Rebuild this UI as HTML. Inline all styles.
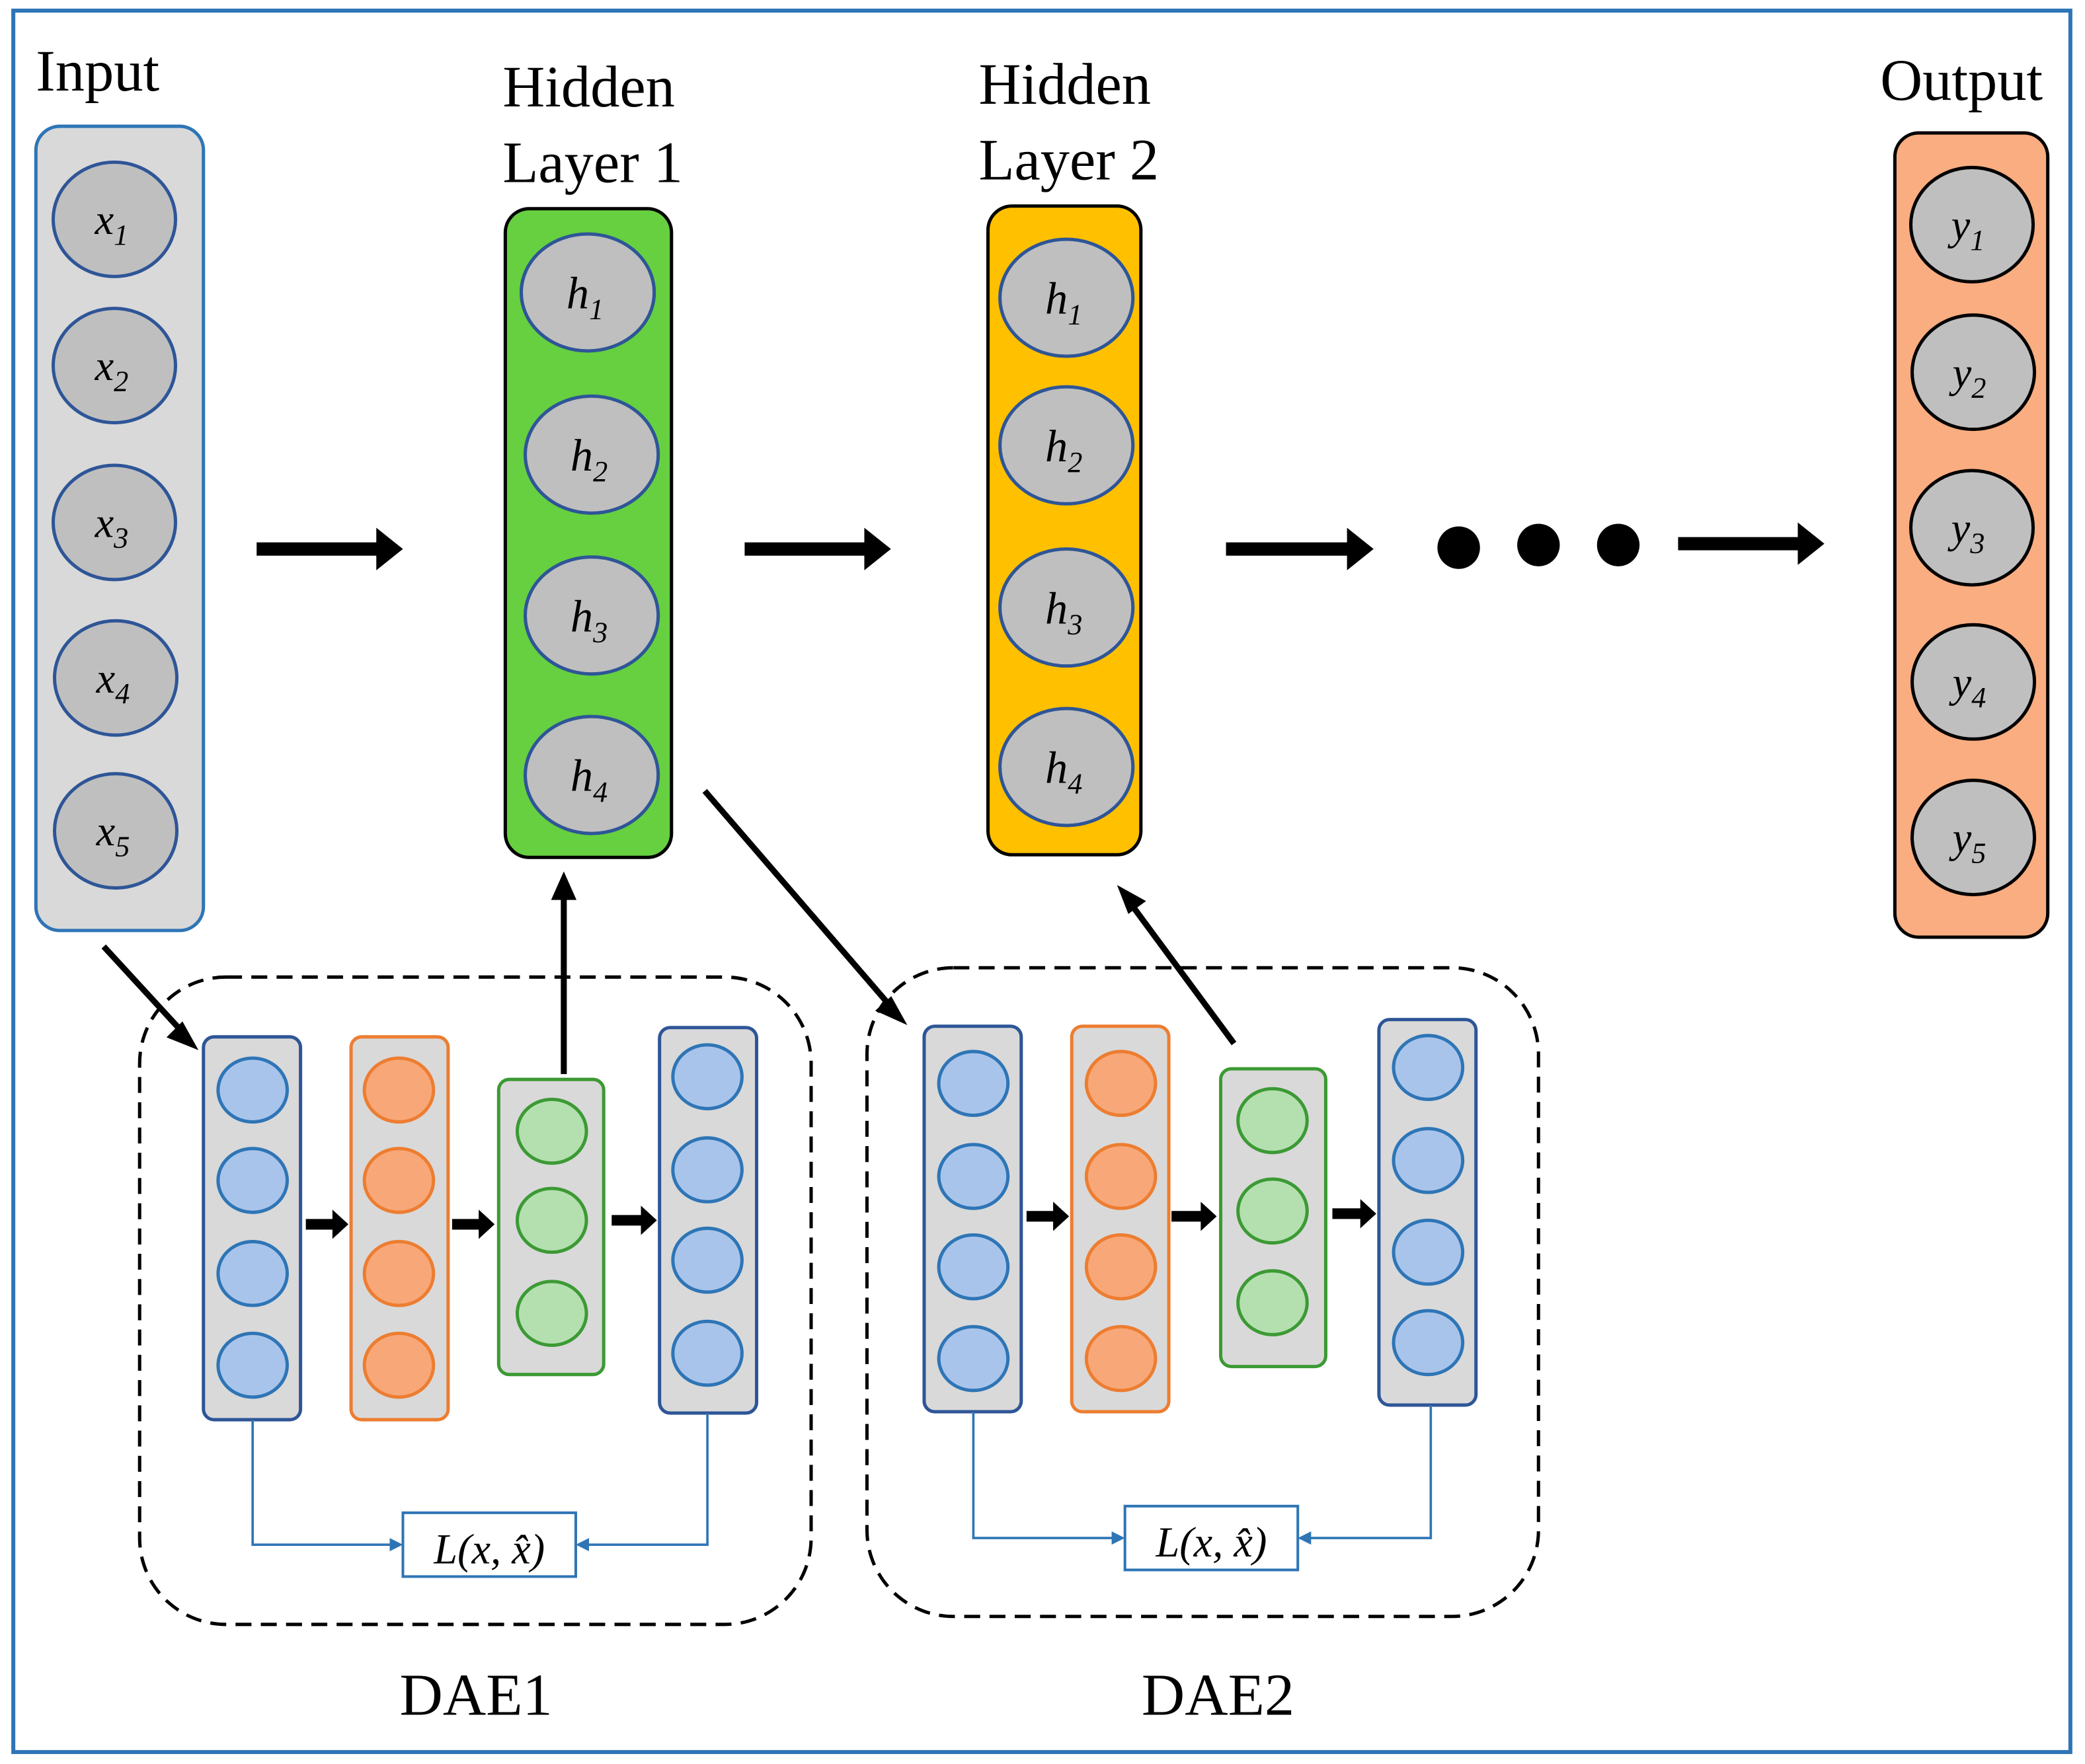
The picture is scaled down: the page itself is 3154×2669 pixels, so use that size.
<!DOCTYPE html>
<html><head><meta charset="utf-8"><style>html,body{margin:0;padding:0;background:#fff}svg{display:block}</style></head>
<body>
<svg width="3154" height="2669" viewBox="0 0 1568 1327" preserveAspectRatio="none" xmlns="http://www.w3.org/2000/svg" font-family="Liberation Serif, serif">
<defs>
<marker id="ah" markerWidth="10" markerHeight="10" refX="8" refY="5" orient="auto" markerUnits="userSpaceOnUse"><path d="M0,0 L10,5 L0,10 z" fill="#2e75b6"/></marker>
</defs>
<rect x="0" y="0" width="1568" height="1327" fill="#fff"/>
<rect x="10" y="8" width="1547" height="1310" fill="none" stroke="#2e75b6" stroke-width="3"/>

<g font-size="44" fill="#000">
<text x="27" y="68">Input</text>
<text x="378" y="80">Hidden</text><text x="378" y="137">Layer 1</text>
<text x="736" y="78">Hidden</text><text x="736" y="135">Layer 2</text>
<text x="1414" y="75">Output</text>
</g>

<rect x="27" y="95" width="126" height="605" rx="18" fill="#d9d9d9" stroke="#2e75b6" stroke-width="2.5"/>
<g fill="#bfbfbf" stroke="#2e5597" stroke-width="2.5">
<ellipse cx="86" cy="165" rx="46" ry="43"/><ellipse cx="86" cy="275" rx="46" ry="43"/><ellipse cx="86" cy="393" rx="46" ry="43"/><ellipse cx="87" cy="510" rx="46" ry="43"/><ellipse cx="87" cy="625" rx="46" ry="43"/>
</g>
<g font-size="32" font-style="italic" text-anchor="middle">
<text x="84" y="176">x<tspan font-size="22" dy="8">1</tspan></text>
<text x="84" y="286">x<tspan font-size="22" dy="8">2</tspan></text>
<text x="84" y="404">x<tspan font-size="22" dy="8">3</tspan></text>
<text x="85" y="521">x<tspan font-size="22" dy="8">4</tspan></text>
<text x="85" y="636">x<tspan font-size="22" dy="8">5</tspan></text>
</g>

<rect x="380" y="157" width="125" height="488" rx="18" fill="#66d040" stroke="#000" stroke-width="2.5"/>
<g fill="#bfbfbf" stroke="#2e5597" stroke-width="2.5">
<ellipse cx="442" cy="220" rx="50" ry="44"/><ellipse cx="445" cy="342" rx="50" ry="44"/><ellipse cx="445" cy="463" rx="50" ry="44"/><ellipse cx="445" cy="583" rx="50" ry="44"/>
</g>
<g font-size="34" font-style="italic" text-anchor="middle">
<text x="440" y="232">h<tspan font-size="22" dy="8">1</tspan></text>
<text x="443" y="354">h<tspan font-size="22" dy="8">2</tspan></text>
<text x="443" y="475">h<tspan font-size="22" dy="8">3</tspan></text>
<text x="443" y="595">h<tspan font-size="22" dy="8">4</tspan></text>
</g>

<rect x="743" y="155" width="115" height="488" rx="18" fill="#ffc000" stroke="#000" stroke-width="2.5"/>
<g fill="#bfbfbf" stroke="#2e5597" stroke-width="2.5">
<ellipse cx="802" cy="224" rx="50" ry="44"/><ellipse cx="802" cy="335" rx="50" ry="44"/><ellipse cx="802" cy="457" rx="50" ry="44"/><ellipse cx="802" cy="577" rx="50" ry="44"/>
</g>
<g font-size="34" font-style="italic" text-anchor="middle">
<text x="800" y="236">h<tspan font-size="22" dy="8">1</tspan></text>
<text x="800" y="347">h<tspan font-size="22" dy="8">2</tspan></text>
<text x="800" y="469">h<tspan font-size="22" dy="8">3</tspan></text>
<text x="800" y="589">h<tspan font-size="22" dy="8">4</tspan></text>
</g>

<rect x="1425" y="100" width="115" height="605" rx="18" fill="#f9ad80" stroke="#000" stroke-width="2.5"/>
<g fill="#bfbfbf" stroke="#000" stroke-width="2.5">
<ellipse cx="1483" cy="169" rx="46" ry="43"/><ellipse cx="1484" cy="280" rx="46" ry="43"/><ellipse cx="1483" cy="397" rx="46" ry="43"/><ellipse cx="1484" cy="513" rx="46" ry="43"/><ellipse cx="1484" cy="630" rx="46" ry="43"/>
</g>
<g font-size="32" font-style="italic" text-anchor="middle">
<text x="1480" y="180">y<tspan font-size="22" dy="8">1</tspan></text>
<text x="1481" y="291">y<tspan font-size="22" dy="8">2</tspan></text>
<text x="1480" y="408">y<tspan font-size="22" dy="8">3</tspan></text>
<text x="1481" y="524">y<tspan font-size="22" dy="8">4</tspan></text>
<text x="1481" y="641">y<tspan font-size="22" dy="8">5</tspan></text>
</g>

<g fill="#000">
<path d="M193,408 h90 v-11 l20,16 l-20,16 v-11 h-90 z"/>
<path d="M560,408 h90 v-11 l20,16 l-20,16 v-11 h-90 z"/>
<path d="M922,408 h91 v-11 l20,16 l-20,16 v-11 h-91 z"/>
<path d="M1262,404 h90 v-11 l20,16 l-20,16 v-11 h-90 z"/>
<circle cx="1097" cy="412" r="16"/><circle cx="1157" cy="410" r="16"/><circle cx="1217" cy="410" r="16"/>
</g>

<rect x="105" y="735" width="505" height="487" rx="65" fill="none" stroke="#000" stroke-width="2.5" stroke-dasharray="12,7"/>
<rect x="652" y="728" width="505" height="488" rx="65" fill="none" stroke="#000" stroke-width="2.5" stroke-dasharray="12,7"/>

<g stroke="#000" stroke-width="4.5" fill="#000">
<line x1="78" y1="712" x2="135" y2="774"/><path d="M147,788 l-20,-8 l10,-10 z" stroke-width="2"/>
<line x1="530" y1="595" x2="668" y2="755"/><path d="M680,769 l-20,-9 l10,-9 z" stroke-width="2"/>
<line x1="424" y1="808" x2="424" y2="675"/><path d="M424,658 l-8,18 l16,0 z" stroke-width="2"/>
<line x1="928" y1="785" x2="852" y2="682"/><path d="M842,668 l18,10 l-11,8 z" stroke-width="2"/>
</g>

<g stroke-width="2.5">
<rect x="153" y="780" width="73" height="288" rx="8" fill="#d9d9d9" stroke="#2e5597"/>
<rect x="264" y="780" width="73" height="288" rx="8" fill="#d9d9d9" stroke="#ed7d31"/>
<rect x="375" y="812" width="79" height="222" rx="8" fill="#d9d9d9" stroke="#3c9a34"/>
<rect x="496" y="773" width="73" height="290" rx="8" fill="#d9d9d9" stroke="#2e5597"/>
<g fill="#a9c4eb" stroke="#2e75b6">
<ellipse cx="190" cy="820" rx="26" ry="24"/><ellipse cx="190" cy="888" rx="26" ry="24"/><ellipse cx="190" cy="958" rx="26" ry="24"/><ellipse cx="190" cy="1027" rx="26" ry="24"/>
<ellipse cx="532" cy="810" rx="26" ry="24"/><ellipse cx="532" cy="880" rx="26" ry="24"/><ellipse cx="532" cy="948" rx="26" ry="24"/><ellipse cx="532" cy="1018" rx="26" ry="24"/>
</g>
<g fill="#f8a878" stroke="#ed7d31">
<ellipse cx="300" cy="820" rx="26" ry="24"/><ellipse cx="300" cy="888" rx="26" ry="24"/><ellipse cx="300" cy="958" rx="26" ry="24"/><ellipse cx="300" cy="1027" rx="26" ry="24"/>
</g>
<g fill="#b4e0b0" stroke="#3c9a34">
<ellipse cx="415" cy="851" rx="26" ry="24"/><ellipse cx="415" cy="918" rx="26" ry="24"/><ellipse cx="415" cy="988" rx="26" ry="24"/>
</g>
</g>
<g fill="#000">
<path d="M230,917 h20 v-7 l12,11 l-12,11 v-7 h-20 z"/>
<path d="M340,917 h20 v-7 l12,11 l-12,11 v-7 h-20 z"/>
<path d="M460,914 h22 v-7 l12,11 l-12,11 v-7 h-22 z"/>
</g>
<rect x="303" y="1138" width="130" height="48" fill="#fff" stroke="#2e75b6" stroke-width="2"/>
<text x="368" y="1176" font-size="32" font-style="italic" text-anchor="middle">L(x, x̂)</text>
<g fill="none" stroke="#2e75b6" stroke-width="1.8">
<path d="M190,1068 V1162 H301" marker-end="url(#ah)"/>
<path d="M532,1063 V1162 H435" marker-end="url(#ah)"/>
</g>
<text x="358" y="1290" font-size="45" text-anchor="middle">DAE1</text>

<g stroke-width="2.5">
<rect x="695" y="772" width="73" height="290" rx="8" fill="#d9d9d9" stroke="#2e5597"/>
<rect x="806" y="772" width="73" height="290" rx="8" fill="#d9d9d9" stroke="#ed7d31"/>
<rect x="918" y="804" width="79" height="224" rx="8" fill="#d9d9d9" stroke="#3c9a34"/>
<rect x="1037" y="767" width="73" height="290" rx="8" fill="#d9d9d9" stroke="#2e5597"/>
<g fill="#a9c4eb" stroke="#2e75b6">
<ellipse cx="732" cy="815" rx="26" ry="24"/><ellipse cx="732" cy="885" rx="26" ry="24"/><ellipse cx="732" cy="953" rx="26" ry="24"/><ellipse cx="732" cy="1022" rx="26" ry="24"/>
<ellipse cx="1074" cy="803" rx="26" ry="24"/><ellipse cx="1074" cy="873" rx="26" ry="24"/><ellipse cx="1074" cy="942" rx="26" ry="24"/><ellipse cx="1074" cy="1010" rx="26" ry="24"/>
</g>
<g fill="#f8a878" stroke="#ed7d31">
<ellipse cx="843" cy="815" rx="26" ry="24"/><ellipse cx="843" cy="885" rx="26" ry="24"/><ellipse cx="843" cy="953" rx="26" ry="24"/><ellipse cx="843" cy="1022" rx="26" ry="24"/>
</g>
<g fill="#b4e0b0" stroke="#3c9a34">
<ellipse cx="957" cy="843" rx="26" ry="24"/><ellipse cx="957" cy="911" rx="26" ry="24"/><ellipse cx="957" cy="980" rx="26" ry="24"/>
</g>
</g>
<g fill="#000">
<path d="M772,911 h20 v-7 l12,11 l-12,11 v-7 h-20 z"/>
<path d="M881,911 h22 v-7 l12,11 l-12,11 v-7 h-22 z"/>
<path d="M1002,909 h21 v-7 l12,11 l-12,11 v-7 h-21 z"/>
</g>
<rect x="846" y="1133" width="130" height="48" fill="#fff" stroke="#2e75b6" stroke-width="2"/>
<text x="911" y="1171" font-size="32" font-style="italic" text-anchor="middle">L(x, x̂)</text>
<g fill="none" stroke="#2e75b6" stroke-width="1.8">
<path d="M732,1062 V1157 H844" marker-end="url(#ah)"/>
<path d="M1076,1057 V1157 H978" marker-end="url(#ah)"/>
</g>
<text x="916" y="1290" font-size="45" text-anchor="middle">DAE2</text>
</svg>
</body></html>
